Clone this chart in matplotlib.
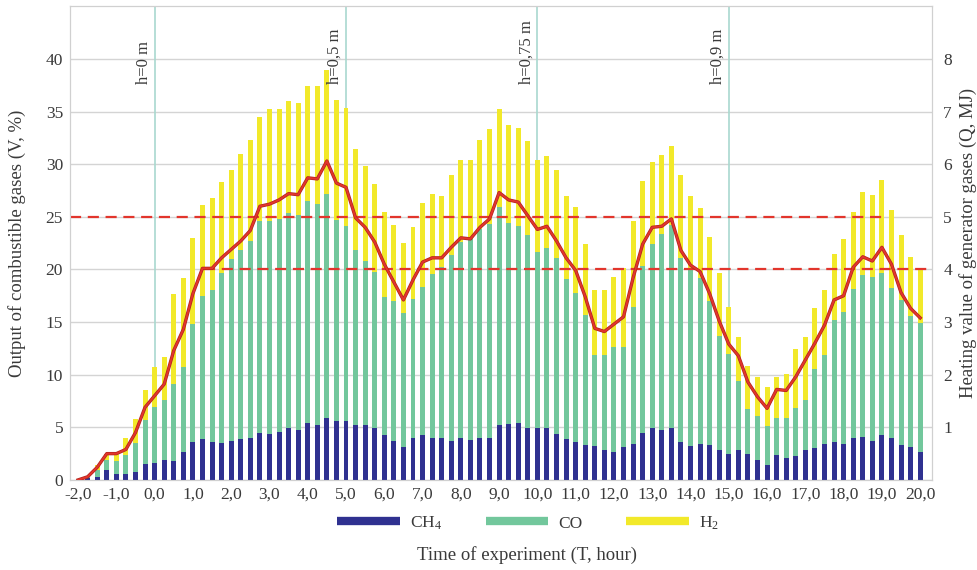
import numpy as np
import matplotlib
matplotlib.use("Agg")
import matplotlib.pyplot as plt
from matplotlib.lines import Line2D

plt.rcParams['font.family'] = ['Liberation Serif', 'DejaVu Serif']
plt.rcParams['mathtext.fontset'] = 'custom'
plt.rcParams['mathtext.rm'] = 'Liberation Serif'

# time of experiment, hours (one sample every 15 min)
time = np.arange(-8, 81) / 4.0

# output of combustible gases, V %
ch4 = [0, 0.2, 0.3, 0.9, 0.6, 0.6, 0.8, 1.5, 1.6, 1.9, 1.8, 2.7, 3.6, 3.9, 3.6, 3.5,
       3.7, 3.9, 4.0, 4.5, 4.4, 4.6, 4.9, 4.7, 5.4, 5.2, 5.9, 5.6, 5.6, 5.2, 5.2, 4.9,
       4.3, 3.7, 3.1, 4.0, 4.3, 4.0, 4.0, 3.7, 4.0, 3.8, 4.0, 4.0, 5.2, 5.3, 5.4, 4.9,
       4.9, 4.9, 4.4, 3.9, 3.6, 3.3, 3.2, 2.8, 2.7, 3.1, 3.4, 4.5, 4.9, 4.7, 4.9, 3.6,
       3.2, 3.4, 3.3, 2.8, 2.5, 2.8, 2.5, 1.9, 1.4, 2.4, 2.1, 2.3, 2.8, 3.0, 3.4, 3.6,
       3.4, 4.0, 4.1, 3.7, 4.3, 4.0, 3.3, 3.1, 2.7]
co = [0, 0.1, 0.6, 1.0, 1.2, 1.8, 2.7, 4.2, 5.3, 5.7, 7.3, 8.0, 11.2, 13.6, 14.4, 16.2,
      17.3, 17.9, 18.7, 20.1, 20.2, 20.2, 20.5, 20.5, 21.1, 21.0, 21.3, 19.1, 18.5, 16.6,
      15.6, 14.9, 13.1, 13.3, 12.8, 13.2, 14.0, 15.6, 16.2, 17.7, 18.6, 19.1, 19.8, 20.3,
      20.7, 19.1, 18.7, 18.4, 16.8, 17.1, 16.7, 15.2, 14.2, 12.4, 8.7, 9.1, 9.9, 9.5,
      13.0, 15.8, 17.5, 18.7, 19.3, 17.5, 16.7, 15.8, 13.7, 10.9, 9.5, 6.6, 4.2, 4.2,
      3.7, 3.5, 3.8, 4.5, 4.8, 7.5, 8.5, 11.6, 12.6, 14.1, 15.4, 15.6, 15.4, 14.2, 13.8,
      12.5, 12.2]
h2 = [0, 0.1, 0.5, 0.6, 0.7, 1.6, 2.3, 2.8, 3.8, 4.1, 8.6, 8.5, 8.2, 8.6, 8.8, 8.6,
      8.4, 9.2, 9.6, 9.9, 10.6, 10.4, 10.6, 10.6, 10.9, 11.2, 11.7, 11.4, 11.2, 9.6, 9.0,
      8.3, 8.1, 7.2, 6.6, 6.8, 8.0, 7.6, 6.8, 7.6, 7.8, 7.5, 8.5, 9.0, 9.3, 9.3, 9.3,
      8.9, 8.7, 8.8, 8.3, 7.9, 8.1, 6.7, 6.1, 6.1, 6.7, 7.5, 8.2, 8.1, 7.8, 7.5, 7.5,
      7.9, 7.1, 6.6, 6.1, 6.0, 4.4, 4.2, 4.1, 3.7, 3.7, 3.9, 4.2, 5.6, 6.0, 5.8, 6.1,
      6.3, 6.9, 7.4, 7.9, 7.8, 8.8, 7.4, 6.2, 5.6, 5.1]

# heating value of generator gases, Q MJ
heat = [0, 0.06, 0.24, 0.5, 0.5, 0.58, 0.9, 1.38, 1.6, 1.82, 2.46, 2.86, 3.54, 4.02,
        4.02, 4.22, 4.38, 4.54, 4.74, 5.2, 5.24, 5.32, 5.44, 5.42, 5.74, 5.72, 6.06, 5.64,
        5.56, 4.98, 4.8, 4.52, 4.1, 3.76, 3.42, 3.8, 4.14, 4.22, 4.22, 4.42, 4.6, 4.58,
        4.8, 4.96, 5.46, 5.32, 5.28, 5.02, 4.76, 4.82, 4.54, 4.22, 3.98, 3.48, 2.88, 2.82,
        2.96, 3.1, 3.84, 4.48, 4.8, 4.82, 4.96, 4.36, 4.08, 3.96, 3.54, 3.02, 2.58, 2.36,
        1.86, 1.58, 1.36, 1.72, 1.7, 1.96, 2.28, 2.6, 2.94, 3.42, 3.5, 4.04, 4.24, 4.16,
        4.42, 4.1, 3.56, 3.26, 3.08]

xticks = list(range(-2, 21))
xlabels = ['%d,0' % t for t in xticks]
h_pos = [0, 5, 10, 15]
h_text = ['h=0 m', 'h=0,5 m', 'h=0,75 m', 'h=0,9 m']

c_ch4 = '#2f3190'
c_co = '#72c79c'
c_h2 = '#f2e92a'
c_red = '#e2352c'
c_txt = '#3a3a3a'

fig = plt.figure(figsize=(9.78, 5.70), dpi=100)
ax = fig.add_axes([0.0716, 0.158, 0.8814, 0.831])

ch4 = np.array(ch4)
co = np.array(co)
h2 = np.array(h2)
w = 0.13
ax.bar(time, ch4, w, color=c_ch4, zorder=3)
ax.bar(time, co, w, bottom=ch4, color=c_co, zorder=3)
ax.bar(time, h2, w, bottom=ch4 + co, color=c_h2, zorder=3)

for x, t in zip(h_pos, h_text):
    ax.axvline(x, color='#a9d8cf', lw=1.2, zorder=1)
    ax.text(x - 0.08, 37.6, t, rotation=90, ha='right', va='bottom',
            fontsize=12, color=c_txt)

ax.set_xlim(-2.21, 20.31)
ax.set_ylim(0, 45)
ax.set_yticks(range(0, 45, 5))
ax.set_xticks(xticks)
ax.set_xticklabels(xlabels)
ax.yaxis.grid(True, color='#d4d4d4', lw=1.0, zorder=0)
ax.set_axisbelow(True)
ax.tick_params(length=0, labelsize=12.5, colors=c_txt, pad=5)
for s in ax.spines.values():
    s.set_color('#d0d0d0')

ax.hlines(25, -2.21, 19.1, colors=c_red, linestyles=(0, (5, 3)), lw=1.6, zorder=4)
ax.hlines(20, 1.3, 20.31, colors=c_red, linestyles=(0, (5, 3)), lw=1.6, zorder=4)

ax.set_ylabel('Output of combustible gases (V, %)', fontsize=13.5, color=c_txt)
ax.yaxis.set_label_coords(-0.061, 0.5)
ax.yaxis.label.set_va('center')
ax.set_xlabel('Time of experiment (T, hour)', fontsize=13.5, color=c_txt)
ax.xaxis.set_label_coords(0.53, -0.158)
ax.xaxis.label.set_va('center')

ax2 = ax.twinx()
ax2.set_ylim(0, 9)
ax2.set_yticks(range(1, 9))
ax2.plot(time, heat, color='#b0231d', lw=2.4, zorder=5, solid_joinstyle='round')
ax2.plot(time, heat, color=c_red, lw=1.4, zorder=6, solid_joinstyle='round')
ax2.tick_params(length=0, labelsize=12.5, colors=c_txt, pad=8)
ax2.set_ylabel('Heating value of generator gases (Q, MJ)', fontsize=13.5, color=c_txt)
ax2.yaxis.set_label_coords(1.042, 0.5)
ax2.yaxis.label.set_va('center')
for s in ax2.spines.values():
    s.set_color('#d0d0d0')

handles = [Line2D([], [], color=c, lw=6, solid_capstyle='butt') for c in (c_ch4, c_co, c_h2)]
fig.legend(handles, [r'CH$\mathregular{_4}$', 'CO', r'H$\mathregular{_2}$'],
           loc='center', bbox_to_anchor=(0.54, 0.082), ncol=3, frameon=False,
           fontsize=12.5, handlelength=3.6, columnspacing=2.5, handletextpad=0.6,
           labelcolor=c_txt)

fig.savefig('out.png', dpi=100)
